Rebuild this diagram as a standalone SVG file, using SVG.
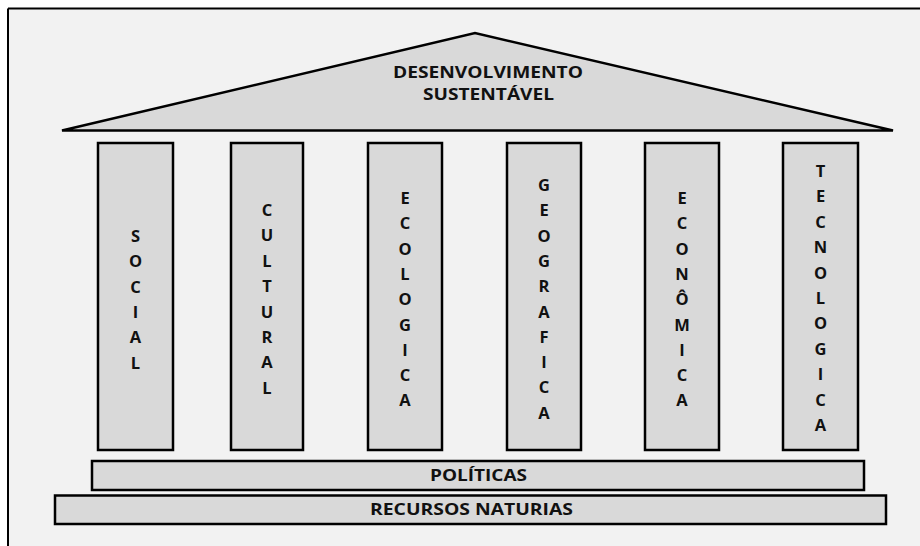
<svg xmlns="http://www.w3.org/2000/svg" width="920" height="546" viewBox="0 0 920 546">
<style>
.shape{fill:#d9d9d9;stroke:#000;stroke-width:2.5}
.t{font-family:"Open Sans","DejaVu Sans",sans-serif;font-weight:bold;fill:#111;text-anchor:middle}
.col{font-size:16.5px}
.bar{font-size:16px}
</style>
<rect x="0" y="0" width="920" height="546" fill="#fff"/>
<rect x="8" y="8.5" width="912" height="540" fill="#f2f2f2"/>
<path d="M8 8.5H920M8 8.5V546" stroke="#000" stroke-width="2" fill="none"/>
<g id="pediment">
<polygon class="shape" points="62,130.5 475,33 893,130.5"/>
<text class="t" x="488" y="77.5" font-size="16.5" textLength="190" lengthAdjust="spacingAndGlyphs">DESENVOLVIMENTO</text>
<text class="t" x="488.5" y="99.5" font-size="16.5" textLength="131" lengthAdjust="spacingAndGlyphs">SUSTENTÁVEL</text>
</g>
<g id="social">
<rect class="shape" x="98" y="143" width="75" height="307"/>
<text class="t col" x="135.5" y="242"><tspan x="135.5">S</tspan><tspan x="135.5" dy="25.3">O</tspan><tspan x="135.5" dy="25.3">C</tspan><tspan x="135.5" dy="25.3">I</tspan><tspan x="135.5" dy="25.3">A</tspan><tspan x="135.5" dy="25.3">L</tspan></text>
</g>
<g id="cultural">
<rect class="shape" x="231" y="143" width="72" height="307"/>
<text class="t col" x="267" y="216"><tspan x="267">C</tspan><tspan x="267" dy="25.4">U</tspan><tspan x="267" dy="25.4">L</tspan><tspan x="267" dy="25.4">T</tspan><tspan x="267" dy="25.4">U</tspan><tspan x="267" dy="25.4">R</tspan><tspan x="267" dy="25.4">A</tspan><tspan x="267" dy="25.4">L</tspan></text>
</g>
<g id="ecologica">
<rect class="shape" x="368" y="143" width="74" height="307"/>
<text class="t col" x="405" y="204"><tspan x="405">E</tspan><tspan x="405" dy="25.3">C</tspan><tspan x="405" dy="25.3">O</tspan><tspan x="405" dy="25.3">L</tspan><tspan x="405" dy="25.3">O</tspan><tspan x="405" dy="25.3">G</tspan><tspan x="405" dy="25.3">I</tspan><tspan x="405" dy="25.3">C</tspan><tspan x="405" dy="25.3">A</tspan></text>
</g>
<g id="geografica">
<rect class="shape" x="507" y="143" width="74" height="307"/>
<text class="t col" x="544" y="191"><tspan x="544">G</tspan><tspan x="544" dy="25.3">E</tspan><tspan x="544" dy="25.3">O</tspan><tspan x="544" dy="25.3">G</tspan><tspan x="544" dy="25.3">R</tspan><tspan x="544" dy="25.3">A</tspan><tspan x="544" dy="25.3">F</tspan><tspan x="544" dy="25.3">I</tspan><tspan x="544" dy="25.3">C</tspan><tspan x="544" dy="25.3">A</tspan></text>
</g>
<g id="economica">
<rect class="shape" x="645" y="143" width="74" height="307"/>
<text class="t col" x="682" y="204"><tspan x="682">E</tspan><tspan x="682" dy="25.3">C</tspan><tspan x="682" dy="25.3">O</tspan><tspan x="682" dy="25.3">N</tspan><tspan x="682" dy="25.3">Ô</tspan><tspan x="682" dy="25.3">M</tspan><tspan x="682" dy="25.3">I</tspan><tspan x="682" dy="25.3">C</tspan><tspan x="682" dy="25.3">A</tspan></text>
</g>
<g id="tecnologica">
<rect class="shape" x="783" y="143" width="75" height="307"/>
<text class="t col" x="820.5" y="177"><tspan x="820.5">T</tspan><tspan x="820.5" dy="25.4">E</tspan><tspan x="820.5" dy="25.4">C</tspan><tspan x="820.5" dy="25.4">N</tspan><tspan x="820.5" dy="25.4">O</tspan><tspan x="820.5" dy="25.4">L</tspan><tspan x="820.5" dy="25.4">O</tspan><tspan x="820.5" dy="25.4">G</tspan><tspan x="820.5" dy="25.4">I</tspan><tspan x="820.5" dy="25.4">C</tspan><tspan x="820.5" dy="25.4">A</tspan></text>
</g>
<g id="politicas">
<rect class="shape" x="92" y="461" width="772" height="29"/>
<text class="t bar" x="478.5" y="481" textLength="97" lengthAdjust="spacingAndGlyphs">POLÍTICAS</text>
</g>
<g id="recursos">
<rect class="shape" x="55" y="495.5" width="831" height="28.5"/>
<text class="t bar" x="471.5" y="515" textLength="203" lengthAdjust="spacingAndGlyphs">RECURSOS NATURIAS</text>
</g>
<g id="connectors"/>
</svg>
